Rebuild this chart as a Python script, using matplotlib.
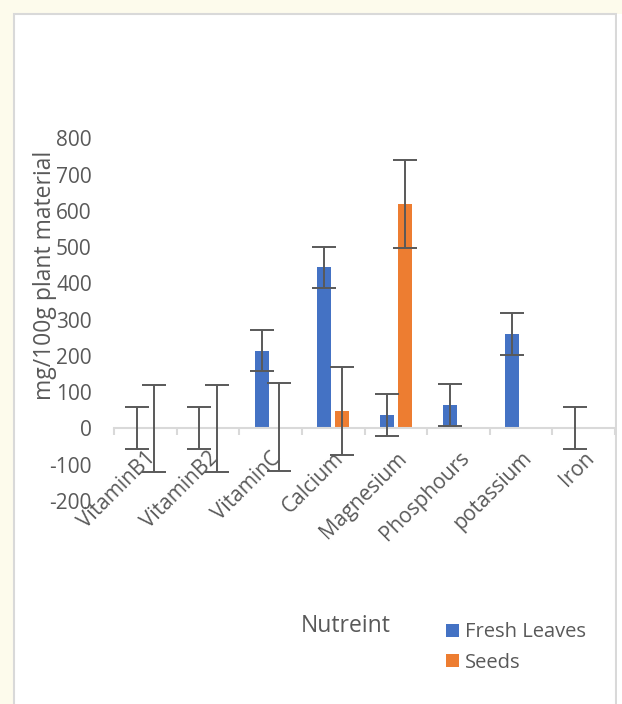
import matplotlib.pyplot as plt
from matplotlib.patches import Patch, Rectangle

categories = ['VitaminB1', 'VitaminB2', 'VitaminC', 'Calcium', 'Magnesium',
              'Phosphours', 'potassium', 'Iron']
fresh = [0, 0, 214, 444, 37, 63, 260, 0]
fresh_err = [58, 58, 57, 57, 57, 58, 58, 58]
seeds = [0, 0, 3, 47, 619, 0, 0, 0]
seeds_err = [120, 120, 121, 121, 122, 0, 0, 0]
yticks = list(range(-200, 801, 100))

blue = '#4472C4'
orange = '#ED7D31'
grey_txt = '#595959'
grey_line = '#D9D9D9'

plt.rcParams['font.family'] = ['Open Sans', 'DejaVu Sans']
plt.rcParams['axes.unicode_minus'] = False

W, H = 622, 704
fig = plt.figure(figsize=(W / 100, H / 100), dpi=100)

# pale backdrop outside the chart frame, then the white chart area
fig.patches.append(Rectangle((0, 0), 1, 1, transform=fig.transFigure,
                             facecolor='#fdfbec', edgecolor='none', zorder=-3))
fig.patches.append(Rectangle((13.5 / W, -0.01), (616 - 13.5) / W, 1 - 13.5 / H + 0.01,
                             transform=fig.transFigure, facecolor='white',
                             edgecolor=grey_line, linewidth=1.5, zorder=-2))
fig.patches.append(Rectangle((617 / W, 0), 5 / W, 1 - 14 / H, transform=fig.transFigure,
                             facecolor='white', edgecolor='none', zorder=-2))

ax = fig.add_axes([114 / W, 1 - 500.8 / H, (615 - 114) / W, (500.8 - 138.3) / H])
ax.patch.set_alpha(0)

x = list(range(len(categories)))
off, bw = 0.14, 0.225
err_kw = dict(ecolor=grey_txt, elinewidth=1.4, capsize=8.6, capthick=1.4)

fx = [i - off for i in x]
sx = [i + off for i in x]
ax.bar(fx, fresh, bw, color=blue, label='Fresh Leaves', zorder=2)
ax.bar(sx, seeds, bw, color=orange, label='Seeds', zorder=2)
ax.errorbar(fx, fresh, yerr=fresh_err, fmt='none', zorder=3, **err_kw)
se_x = [p for p, e in zip(sx, seeds_err) if e > 0]
se_y = [v for v, e in zip(seeds, seeds_err) if e > 0]
se_e = [e for e in seeds_err if e > 0]
ax.errorbar(se_x, se_y, yerr=se_e, fmt='none', zorder=3, **err_kw)

ax.set_xlim(-0.5, len(categories) - 0.5)
ax.set_ylim(-200, 800)

for s in ['top', 'right', 'left']:
    ax.spines[s].set_visible(False)
ax.spines['bottom'].set_position(('data', 0))
ax.spines['bottom'].set_color(grey_line)
ax.spines['bottom'].set_linewidth(1.5)

ax.set_yticks(yticks)
ax.tick_params(axis='y', length=0, pad=16, labelsize=15, labelcolor=grey_txt)

ax.set_xticks([i - 0.5 for i in range(len(categories) + 1)])
ax.set_xticklabels([])
ax.tick_params(axis='x', which='major', length=5, width=1.5, color=grey_line)
ax.set_xticks(x, minor=True)
ax.set_xticklabels(categories, minor=True, rotation=45, ha='right', va='top',
                   rotation_mode='anchor')
ax.tick_params(axis='x', which='minor', length=0, pad=14, labelsize=15,
               labelcolor=grey_txt)

fig.text(45 / W, 1 - 275 / H, 'mg/100g plant material', rotation=90,
         ha='center', va='center', fontsize=16.5, color=grey_txt)
fig.text(300.7 / W, 1 - 626 / H, 'Nutreint', ha='left', va='center',
         fontsize=16.5, color=grey_txt)

handles = [Patch(facecolor=blue, label='Fresh Leaves'),
           Patch(facecolor=orange, label='Seeds')]
fig.legend(handles=handles, loc='center left', bbox_to_anchor=(446 / W, 1 - 647.5 / H),
           frameon=False, fontsize=14.5, labelcolor=grey_txt, borderpad=0,
           borderaxespad=0, handlelength=0.65, handleheight=0.65,
           handletextpad=0.3, labelspacing=0.5)

fig.savefig('out.png', dpi=100)
